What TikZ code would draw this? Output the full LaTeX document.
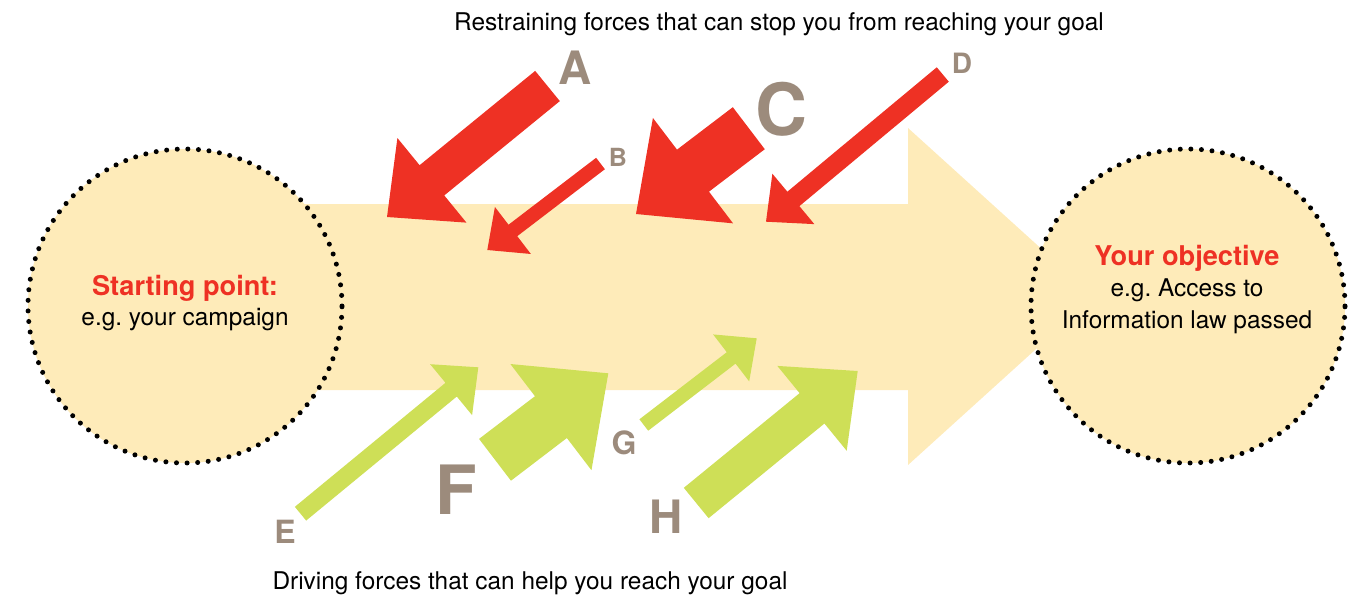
\documentclass[tikz,border=0pt]{standalone}
\usepackage{fontspec}
\setmainfont{TeX Gyre Heros}
\frenchspacing
\usetikzlibrary{calc}
\definecolor{goalyellow}{HTML}{FEEBB9}
\definecolor{forcered}{HTML}{EE3124}
\definecolor{forcegreen}{HTML}{CEDF57}
\definecolor{lettergray}{HTML}{9C8B7C}
% #1 name, #2 colour, #3 tail, #4 tip, #5 half shaft width, #6 half head width, #7 head length
\newcommand\forcearrow[7]{%
  \coordinate (#1-n) at ($(#4)!#7!(#3)$);
  \fill[#2] ($(#3)!#5!90:(#4)$) -- ($(#1-n)!#5!90:(#4)$) -- ($(#1-n)!#6!90:(#4)$)
    -- (#4) -- ($(#1-n)!#6!-90:(#4)$) -- ($(#1-n)!#5!-90:(#4)$)
    -- ($(#3)!#5!-90:(#4)$) -- cycle;
}
\tikzset{
  goalcircle/.style={circle, fill=goalyellow, draw=black, line width=2.5pt,
    dash pattern=on 0pt off 5.3pt, line cap=round, minimum size=157pt, inner sep=0pt},
  bodytext/.style={font=\fontsize{12.2}{14}\selectfont, text=black, inner sep=0pt, anchor=base},
  headtext/.style={font=\fontsize{13.6}{15}\selectfont\bfseries, text=forcered, inner sep=0pt, anchor=base},
  forcelabel/.style={text=lettergray, inner sep=0pt, anchor=center}
}
\begin{document}
\begin{tikzpicture}[x=0.5pt,y=-0.5pt]
\useasboundingbox (0,0) rectangle (1364,594);

% main direction arrow
\fill[goalyellow] (200,204) -- (908,204) -- (908,128) -- (1094,296.5) -- (908,465)
  -- (908,390) -- (200,390) -- cycle;

% start and goal circles
\node[goalcircle] (start) at (185,306) {};
\node[goalcircle] (goal) at (1188,306) {};

\node[headtext] (startH) at (185,295) {Starting point:};
\node[bodytext] (startT) at (185,325) {e.g. your campaign};
\node[headtext] (goalH) at (1187,265) {Your objective};
\node[bodytext] (goalT1) at (1187,296.5) {e.g. Access to};
\node[bodytext] (goalT2) at (1187,328) {Information law passed};

% titles
\node[bodytext] (restrain) at (779,30) {Restraining forces that can stop you from reaching your goal};
\node[bodytext] (driving) at (530,589) {Driving forces that can help you reach your goal};

% restraining forces
\coordinate (A-tail) at (547.5,86);   \coordinate (A-tip) at (387,217);
\coordinate (B-tail) at (600.5,163.5); \coordinate (B-tip) at (487.3,250);
\coordinate (C-tail) at (748.8,128.2); \coordinate (C-tip) at (636,214);
\coordinate (D-tail) at (942.8,74.5);  \coordinate (D-tip) at (766,221.7);
\forcearrow{A}{forcered}{A-tail}{A-tip}{9.75pt}{27.3pt}{29pt}
\forcearrow{B}{forcered}{B-tail}{B-tip}{3.6pt}{14.8pt}{16.1pt}
\forcearrow{C}{forcered}{C-tail}{C-tip}{13.2pt}{33.1pt}{35.8pt}
\forcearrow{D}{forcered}{D-tail}{D-tip}{4.7pt}{16.4pt}{17.8pt}

% driving forces
\coordinate (E-tail) at (300.5,513.7); \coordinate (E-tip) at (478.3,367.3);
\coordinate (F-tail) at (495,459.8);   \coordinate (F-tip) at (608.3,373.3);
\coordinate (G-tail) at (643.8,425);   \coordinate (G-tip) at (756.7,338.3);
\coordinate (H-tail) at (696.2,503);   \coordinate (H-tip) at (857.7,371);
\forcearrow{E}{forcegreen}{E-tail}{E-tip}{4.45pt}{16.5pt}{17.6pt}
\forcearrow{F}{forcegreen}{F-tail}{F-tip}{13.15pt}{33.4pt}{36.1pt}
\forcearrow{G}{forcegreen}{G-tail}{G-tip}{3.6pt}{14.8pt}{16.1pt}
\forcearrow{H}{forcegreen}{H-tail}{H-tip}{9.8pt}{27.4pt}{29.5pt}

% force labels
\node[forcelabel, font=\fontsize{23}{23}\selectfont\bfseries] (lA) at (575,68) {A};
\node[forcelabel, font=\fontsize{12.5}{12.5}\selectfont\bfseries] (lB) at (618,157) {B};
\node[forcelabel, font=\fontsize{36}{36}\selectfont\bfseries] (lC) at (781,109) {C};
\node[forcelabel, font=\fontsize{14}{14}\selectfont\bfseries] (lD) at (962,63) {D};
\node[forcelabel, font=\fontsize{16}{16}\selectfont\bfseries] (lE) at (285,531.5) {E};
\node[forcelabel, font=\fontsize{34}{34}\selectfont\bfseries] (lF) at (456,490) {F};
\node[forcelabel, font=\fontsize{16}{16}\selectfont\bfseries] (lG) at (624,443) {G};
\node[forcelabel, font=\fontsize{23}{23}\selectfont\bfseries] (lH) at (666,517) {H};
\end{tikzpicture}
\end{document}
